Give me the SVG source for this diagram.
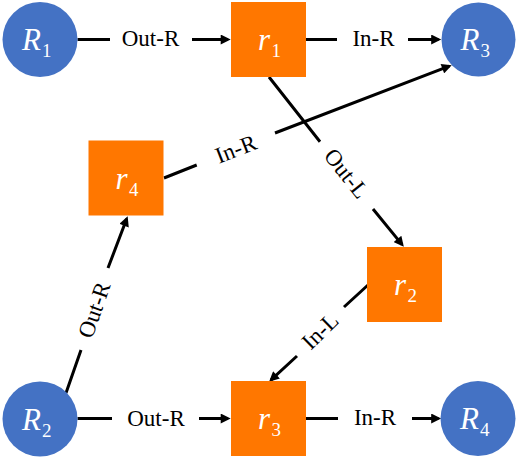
<svg xmlns="http://www.w3.org/2000/svg" width="519" height="460" viewBox="0 0 519 460">
<defs>
<marker id="ah" viewBox="0 0 10 10" refX="7.3" refY="5" markerWidth="11" markerHeight="10" markerUnits="userSpaceOnUse" orient="auto">
<path d="M0,0 L10,5 L0,10 z" fill="#000"/>
</marker>
</defs>
<g id="connectors" fill="none" stroke="#000" stroke-width="3">
<path d="M77.5 39.5 H110 M192 39.5 H228" marker-end="url(#ah)"/>
<path d="M306 39.5 H337 M408 39.5 H438.5" marker-end="url(#ah)"/>
<path d="M269 77 L320 141.7 M373 209 L402.1 244.6" marker-end="url(#ah)"/>
<path d="M164 178 L196.7 165 M275 133 L449.2 66.1" marker-end="url(#ah)"/>
<path d="M66 393 L81 350 M108 268 L126.7 218.8" marker-end="url(#ah)"/>
<path d="M368 285 L344 307 M297 356 L271.1 379.9" marker-end="url(#ah)"/>
<path d="M77.5 418.5 H112 M199 418.5 H228" marker-end="url(#ah)"/>
<path d="M306 418.5 H338 M412 418.5 H438.5" marker-end="url(#ah)"/>
</g>
<g id="connector-labels">
<text style="font-family:'Liberation Serif',serif;font-size:23px;text-anchor:middle" x="150.5" y="45.5">Out-R</text>
<text style="font-family:'Liberation Serif',serif;font-size:23px;text-anchor:middle" x="373.5" y="45.5">In-R</text>
<text style="font-family:'Liberation Serif',serif;font-size:23px;text-anchor:middle" transform="translate(346 174) rotate(51.5)" x="0" y="7">Out-L</text>
<text style="font-family:'Liberation Serif',serif;font-size:23px;text-anchor:middle" transform="translate(236 149.5) rotate(-21.4)" x="0" y="7">In-R</text>
<text style="font-family:'Liberation Serif',serif;font-size:23px;text-anchor:middle" transform="translate(94.8 310) rotate(-70.8)" x="0" y="7">Out-R</text>
<text style="font-family:'Liberation Serif',serif;font-size:23px;text-anchor:middle" transform="translate(320.5 331.5) rotate(-44.4)" x="0" y="7">In-L</text>
<text style="font-family:'Liberation Serif',serif;font-size:23px;text-anchor:middle" x="156" y="426">Out-R</text>
<text style="font-family:'Liberation Serif',serif;font-size:23px;text-anchor:middle" x="375" y="424.5">In-R</text>
</g>
<g id="R1"><circle fill="#4472C4" cx="40" cy="39.5" r="37.5"/><text style="font-family:'Liberation Serif',serif;font-style:italic;font-size:31px;fill:#fff" x="22" y="50">R</text><text style="font-family:'Liberation Serif',serif;font-size:19px;fill:#fff" x="42" y="57">1</text></g>
<g id="r1"><rect fill="#FF7700" x="231" y="2" width="75" height="75"/><text style="font-family:'Liberation Serif',serif;font-style:italic;font-size:31px;fill:#fff" x="258" y="50">r</text><text style="font-family:'Liberation Serif',serif;font-size:19px;fill:#fff" x="271.5" y="57">1</text></g>
<g id="R3"><circle fill="#4472C4" cx="478.5" cy="39.5" r="37"/><text style="font-family:'Liberation Serif',serif;font-style:italic;font-size:31px;fill:#fff" x="460.5" y="50">R</text><text style="font-family:'Liberation Serif',serif;font-size:19px;fill:#fff" x="480.5" y="57">3</text></g>
<g id="r4"><rect fill="#FF7700" x="88.5" y="140.5" width="75" height="75"/><text style="font-family:'Liberation Serif',serif;font-style:italic;font-size:31px;fill:#fff" x="115.5" y="188.5">r</text><text style="font-family:'Liberation Serif',serif;font-size:19px;fill:#fff" x="129" y="195.5">4</text></g>
<g id="r2"><rect fill="#FF7700" x="367" y="247" width="75" height="75"/><text style="font-family:'Liberation Serif',serif;font-style:italic;font-size:31px;fill:#fff" x="394" y="295">r</text><text style="font-family:'Liberation Serif',serif;font-size:19px;fill:#fff" x="407.5" y="302">2</text></g>
<g id="R2"><circle fill="#4472C4" cx="40" cy="419" r="37.5"/><text style="font-family:'Liberation Serif',serif;font-style:italic;font-size:31px;fill:#fff" x="22" y="429.5">R</text><text style="font-family:'Liberation Serif',serif;font-size:19px;fill:#fff" x="42" y="436.5">2</text></g>
<g id="r3"><rect fill="#FF7700" x="231" y="381" width="75" height="75"/><text style="font-family:'Liberation Serif',serif;font-style:italic;font-size:31px;fill:#fff" x="258" y="429">r</text><text style="font-family:'Liberation Serif',serif;font-size:19px;fill:#fff" x="271.5" y="436">3</text></g>
<g id="R4"><circle fill="#4472C4" cx="478" cy="418.5" r="37.5"/><text style="font-family:'Liberation Serif',serif;font-style:italic;font-size:31px;fill:#fff" x="460" y="429">R</text><text style="font-family:'Liberation Serif',serif;font-size:19px;fill:#fff" x="480" y="436">4</text></g>
</svg>
